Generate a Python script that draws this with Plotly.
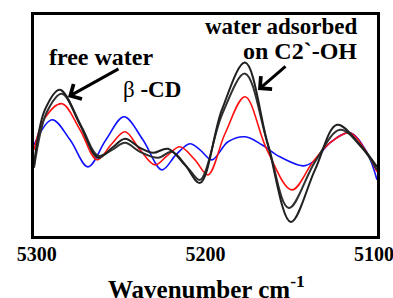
import plotly.graph_objects as go

# ---- data (wavenumber, cm-1 ; second-derivative intensity, arbitrary units) ----
blue_wn = [5300.5, 5289.8, 5279.1, 5268.5, 5257.8, 5247.1, 5235.9, 5224.6, 5216.3, 5208.0,
           5202.0, 5194.9, 5185.4, 5175.3, 5165.3, 5154.6, 5141.0, 5135.0, 5124.9, 5113.0,
           5102.9, 5097.0]
blue_y = [5, 30, 10, -17, 10, 33, 10, -20, -5, 6,
          0, -10, 8, 13, 5, -7, -16, -12, 7, 17,
          -3, -30]

red_wn = [5300.5, 5294.0, 5283.9, 5273.2, 5263.1, 5254.8, 5246.5, 5237.6, 5228.7, 5221.6,
          5213.9, 5205.0, 5197.3, 5187.2, 5175.3, 5162.3, 5147.5, 5135.0, 5124.9, 5113.0,
          5104.1, 5097.0]
red_y = [0, 32, 46, 20, -10, 5, 18, 0, -15, -6,
         3, -10, -25, 16, 53, 0, -40, -12, 7, 17,
         0, -22]

black1_wn = [5300.5, 5294.0, 5285.1, 5273.2, 5262.5, 5254.2, 5246.5, 5237.6, 5229.9, 5221.0,
             5211.0, 5202.0, 5189.0, 5175.3, 5161.7, 5148.1, 5133.8, 5120.7, 5107.1, 5097.0]
black1_y = [-15, 40, 60, 25, -8, 2, 11, 2, -3, 1,
            -15, -33, 40, 87, 5, -72, -20, 25, 5, -17]

black2_wn = [5300.5, 5292.8, 5283.9, 5272.0, 5262.5, 5254.2, 5246.5, 5237.6, 5226.9, 5218.7,
             5209.2, 5202.0, 5189.0, 5175.3, 5161.7, 5149.3, 5133.8, 5119.0, 5105.9, 5097.0]
black2_y = [-18, 38, 56, 22, -6, 0, 7, -2, -8, -2,
            -18, -30, 35, 76, 5, -58, -12, 20, 2, -20]

tick_vals = [5300, 5200, 5100]
tick_text = ["5300", "5200", "5100"]

FONT = "Liberation Serif"

fig = go.Figure()
series = [
    (blue_wn, blue_y, "#1010ff", 1.6),
    (red_wn, red_y, "#ff1010", 1.6),
    (black2_wn, black2_y, "#303030", 2.0),
    (black1_wn, black1_y, "#202020", 2.0),
]
for xs, ys, col, w in series:
    fig.add_trace(go.Scatter(x=xs, y=ys, mode="lines",
                             line=dict(color=col, width=w, shape="spline", smoothing=1.0),
                             showlegend=False, hoverinfo="skip"))

# pixel -> paper helpers (plot area: x 34..377, y 15..236)
def px(x):
    return (x - 34) / 343.0

def py(y):
    return (236 - y) / 221.0

annos = []
def text(t, x, y, size, weight="bold"):
    annos.append(dict(text=t, x=px(x), y=py(y), xref="paper", yref="paper",
                      showarrow=False, xanchor="center", yanchor="middle",
                      font=dict(family=FONT, size=size, color="black", weight=weight)))

text("free water", 101, 57, 24)
text("β<b> -CD</b>", 152, 89, 23, weight="normal")
text("water adsorbed", 281, 26, 23)
text("on C2`-OH", 300, 51, 24)
text("Wavenumber cm<sup>-1</sup>", 206, 287, 25)

def arrow(hx, hy, tx, ty):
    annos.append(dict(text=" ", x=px(hx), y=py(hy), xref="paper", yref="paper",
                      showarrow=True, ax=tx - hx, ay=ty - hy, axref="pixel", ayref="pixel",
                      arrowhead=4, arrowsize=1.1, arrowwidth=3, arrowcolor="black",
                      standoff=0, startstandoff=0, font=dict(size=1)))

arrow(68, 97, 120, 68)
arrow(258, 90, 287, 65)

fig.update_layout(
    width=393, height=298,
    margin=dict(l=34, r=16, t=15, b=62),
    paper_bgcolor="white", plot_bgcolor="white",
    annotations=annos,
    xaxis=dict(range=[5300.5, 5097], showline=True, linewidth=3, linecolor="black",
               mirror=True, showgrid=False, zeroline=False, ticks="", automargin=False,
               tickvals=tick_vals, ticktext=tick_text, ticklabelstandoff=-2,
               ticklabelshift=-2, ticklabeloverflow="allow",
               tickfont=dict(family=FONT, size=20, color="black", weight="bold")),
    yaxis=dict(range=[-86, 134.5], showline=True, linewidth=3, linecolor="black",
               mirror=True, showgrid=False, zeroline=False, showticklabels=False, ticks="",
               automargin=False),
)

# remove the default page margin so the figure fills the window exactly
fig.write_html("out.html", config={"displayModeBar": False},
               post_script="document.body.style.margin='0';document.body.style.overflow='hidden';")
